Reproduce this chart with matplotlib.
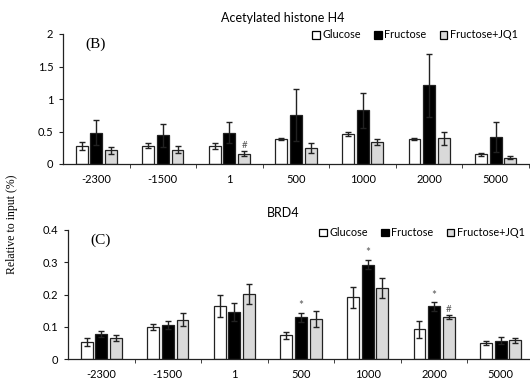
import matplotlib
matplotlib.use("Agg")
import matplotlib.pyplot as plt
import numpy as np
from matplotlib.patches import Patch

positions = ["-2300", "-1500", "1", "500", "1000", "2000", "5000"]
groups = ["Glucose", "Fructose", "Fructose+JQ1"]

# (B) acetylated histone H4
h4_glucose = [0.28, 0.28, 0.28, 0.38, 0.46, 0.38, 0.15]
h4_glucose_err = [0.06, 0.04, 0.05, 0.015, 0.03, 0.015, 0.02]
h4_fructose = [0.48, 0.44, 0.48, 0.76, 0.83, 1.21, 0.42]
h4_fructose_err = [0.19, 0.18, 0.16, 0.40, 0.27, 0.49, 0.23]
h4_jq1 = [0.21, 0.22, 0.16, 0.25, 0.34, 0.40, 0.10]
h4_jq1_err = [0.05, 0.05, 0.04, 0.08, 0.05, 0.10, 0.025]
h4_marks = [["", "", ""], ["", "", ""], ["", "", "#"], ["", "", ""],
            ["", "", ""], ["", "", ""], ["", "", ""]]

# (C) BRD4
brd4_glucose = [0.052, 0.100, 0.163, 0.073, 0.191, 0.092, 0.049]
brd4_glucose_err = [0.012, 0.010, 0.034, 0.012, 0.033, 0.026, 0.006]
brd4_fructose = [0.077, 0.106, 0.146, 0.130, 0.293, 0.163, 0.057]
brd4_fructose_err = [0.010, 0.013, 0.028, 0.014, 0.015, 0.013, 0.012]
brd4_jq1 = [0.065, 0.122, 0.201, 0.124, 0.219, 0.131, 0.058]
brd4_jq1_err = [0.008, 0.020, 0.031, 0.025, 0.031, 0.006, 0.008]
brd4_marks = [["", "", ""], ["", "", ""], ["", "", ""], ["", "*", ""],
              ["", "*", ""], ["", "*", "#"], ["", "", ""]]

colors = ["white", "black", "#d9d9d9"]
sans = "Lato"
serif = "Liberation Serif"

fig = plt.figure(figsize=(5.3, 3.82), dpi=100)


def panel(rect, vals, errs, marks, ymax, ystep, title, tag, leg_xy, title_y):
    ax = fig.add_axes(rect)
    x = np.arange(len(positions))
    offsets = [-0.22, 0, 0.22]
    for i in range(3):
        ax.bar(x + offsets[i], vals[i], width=0.18, color=colors[i],
               edgecolor="#222222", linewidth=0.9, zorder=2)
        ax.errorbar(x + offsets[i], vals[i], yerr=errs[i], fmt="none",
                    ecolor="#222222", elinewidth=1, capsize=2.2, capthick=1,
                    zorder=3)
        for j in range(len(positions)):
            m = marks[j][i]
            if m:
                ax.text(x[j] + offsets[i], vals[i][j] + errs[i][j] + ymax * 0.01, m,
                        ha="center", va="bottom",
                        fontsize=7 if m == "#" else 8.5,
                        color="#555555", family=sans)
    ax.set_xlim(-0.5, len(positions) - 0.5)
    ax.set_ylim(0, ymax)
    yt = np.arange(0, ymax + ystep / 2, ystep)
    ax.set_yticks(yt)
    ax.set_yticklabels(["%g" % v for v in yt], fontsize=8, family=sans)
    ax.set_xticks(x)
    ax.set_xticklabels(positions, fontsize=8, family=sans)
    ax.set_xticks(np.arange(0.5, len(positions), 1), minor=True)
    ax.tick_params(axis="x", which="major", length=0, pad=7)
    ax.tick_params(axis="x", which="minor", length=3, direction="out",
                   color="#222222")
    ax.tick_params(axis="y", length=3, direction="out", color="#222222", pad=4)
    for s in ["top", "right"]:
        ax.spines[s].set_visible(False)
    for s in ["left", "bottom"]:
        ax.spines[s].set_color("#222222")
        ax.spines[s].set_linewidth(0.9)
    fig.text(283 / 530, title_y, title, ha="center", va="center",
             fontsize=9, family=sans)
    ax.text(0.07, 0.92, tag, transform=ax.transAxes, ha="center", va="center",
            fontsize=11, family=serif)
    handles = [Patch(facecolor=c, edgecolor="black", linewidth=0.9) for c in colors]
    fig.legend(handles, groups, loc="center", bbox_to_anchor=leg_xy,
               ncol=3, frameon=False, handlelength=0.7,
               handleheight=0.7, handletextpad=0.25, columnspacing=1.2,
               prop={"family": sans, "size": 7.8})
    return ax


panel([63 / 530, 1 - 164 / 382, 466 / 530, 130 / 382],
      [h4_glucose, h4_fructose, h4_jq1],
      [h4_glucose_err, h4_fructose_err, h4_jq1_err],
      h4_marks, 2, 0.5, "Acetylated histone H4", "(B)",
      (415 / 530, 1 - 35 / 382), 1 - 18 / 382)

panel([68 / 530, 1 - 359 / 382, 466 / 530, 129 / 382],
      [brd4_glucose, brd4_fructose, brd4_jq1],
      [brd4_glucose_err, brd4_fructose_err, brd4_jq1_err],
      brd4_marks, 0.4, 0.1, "BRD4", "(C)",
      (422 / 530, 1 - 233 / 382), 1 - 213 / 382)

fig.text(12 / 530, 1 - 224 / 382, "Relative to input (%)", rotation=90,
         ha="center", va="center", fontsize=8.5, family=serif)

fig.savefig("out.png", dpi=100)
